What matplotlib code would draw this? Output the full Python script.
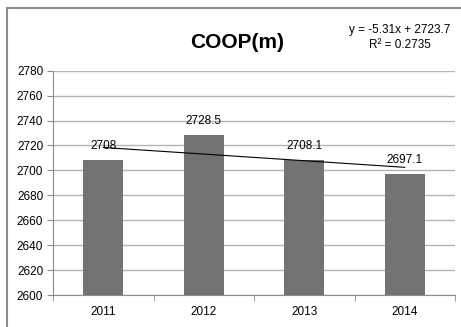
import numpy as np
import matplotlib
matplotlib.use("Agg")
import matplotlib.pyplot as plt
from matplotlib.patches import Rectangle

years = ["2011", "2012", "2013", "2014"]
coop = [2708, 2728.5, 2708.1, 2697.1]
y_ticks = [2600, 2620, 2640, 2660, 2680, 2700, 2720, 2740, 2760, 2780]
label_text = ["2708", "2728.5", "2708.1", "2697.1"]

plt.rcParams["font.family"] = ["Liberation Sans", "DejaVu Sans"]

fig = plt.figure(figsize=(4.61, 3.27), dpi=100)
fig.patch.set_facecolor("white")

# chart frame
fig.patches.append(Rectangle((7 / 461, -0.05), 1.2, (327 - 8) / 327 + 0.05,
                             transform=fig.transFigure, fill=False,
                             edgecolor="#8c8c8c", linewidth=1.5))

ax = fig.add_axes([53 / 461, 1 - 295 / 327, (455 - 53) / 461, (295 - 70.7) / 327])
x = np.arange(len(years))
ax.bar(x, coop, width=0.4, color="#737373", zorder=3, bottom=0)
ax.set_ylim(y_ticks[0], y_ticks[-1])
ax.set_xlim(-0.5, len(years) - 0.5)
ax.set_yticks(y_ticks)
ax.tick_params(axis="y", length=4, labelsize=8.5, color="#8c8c8c", pad=3)
ax.yaxis.grid(True, color="#b4b4b4", linewidth=1, zorder=0)
ax.set_xticks(x)
ax.set_xticklabels(years)
ax.tick_params(axis="x", length=0, labelsize=8.5, pad=8)
ax.set_xticks(np.arange(-0.5, len(years)), minor=True)
ax.tick_params(axis="x", which="minor", length=4, color="#8c8c8c")
for s in ["top", "right"]:
    ax.spines[s].set_visible(False)
for s in ["left", "bottom"]:
    ax.spines[s].set_color("#8c8c8c")

# data labels
for xi, v, t in zip(x, coop, label_text):
    ax.annotate(t, (xi, v), xytext=(0, 6), textcoords="offset points",
                ha="center", va="bottom", fontsize=8.5, zorder=4)

# linear trendline over series index 1..n
n = np.arange(1, len(coop) + 1)
slope, intercept = np.polyfit(n, coop, 1)
fit = slope * n + intercept
r2 = 1 - np.sum((np.array(coop) - fit) ** 2) / np.sum((np.array(coop) - np.mean(coop)) ** 2)
ax.plot(x, fit, color="black", linewidth=0.8, zorder=5)

fig.text(237 / 461, 1 - 42 / 327, "COOP(m)", ha="center", va="center",
         fontsize=15, fontweight="bold")
fig.text(400 / 461, 1 - 30 / 327, f"y = {slope:.2f}x + {intercept:.1f}",
         ha="center", va="center", fontsize=8.5)
fig.text(400 / 461, 1 - 45 / 327, f"R² = {r2:.4f}",
         ha="center", va="center", fontsize=8.5)

fig.savefig("out.png", dpi=100)
